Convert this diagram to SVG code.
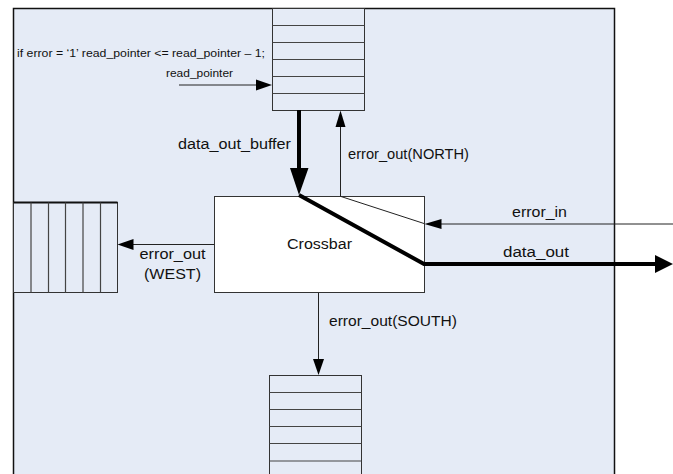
<svg xmlns="http://www.w3.org/2000/svg" width="673" height="474" viewBox="0 0 673 474">
  <style>
    .bg { fill: #e5ebf6; stroke: #111; stroke-width: 1.5; }
    .buf { fill: #e5ebf6; stroke: #333; stroke-width: 1; }
    .cell { stroke: #444; stroke-width: 1.2; fill: none; }
    .box { fill: #ffffff; stroke: #333; stroke-width: 1; }
    .thin { stroke: #222; stroke-width: 1; fill: none; }
    .thick { stroke: #000; stroke-width: 4; fill: none; stroke-linejoin: miter; }
    .head { fill: #000; stroke: none; }
    text { font-family: "Liberation Sans", Arial, sans-serif; fill: #111; }
    .lbl { font-size: 14px; }
    .small { font-size: 10px; }
  </style>

  <!-- router frame -->
  <rect class="bg" x="13.5" y="8.5" width="601" height="480"/>

  <!-- north input buffer -->
  <g id="buffer-north">
    <rect class="buf" x="272.5" y="8.5" width="92" height="102"/>
    <path class="cell" d="M272.5 25.5H364.5M272.5 42.5H364.5M272.5 59.5H364.5M272.5 76.5H364.5M272.5 93.5H364.5"/>
  </g>

  <!-- west buffer -->
  <g id="buffer-west">
    <rect class="buf" x="13.5" y="202.5" width="104" height="90"/>
    <path d="M13.5 202.5H117.5" stroke="#111" stroke-width="2"/>
    <path class="cell" d="M31 202.5V292.5M48.5 202.5V292.5M65.5 202.5V292.5M83 202.5V292.5M100.5 202.5V292.5"/>
  </g>

  <!-- south buffer -->
  <g id="buffer-south">
    <rect class="buf" x="269.5" y="375.5" width="92" height="110"/>
    <path class="cell" d="M269.5 392.5H361.5M269.5 409.5H361.5M269.5 426.5H361.5M269.5 443.5H361.5M269.5 461H361.5"/>
  </g>

  <!-- crossbar -->
  <g id="crossbar">
    <rect class="box" x="214.5" y="196.5" width="210" height="96"/>
    <text class="lbl" x="287" y="249" textLength="65" lengthAdjust="spacingAndGlyphs">Crossbar</text>
  </g>

  <!-- connectors -->
  <g id="connectors">
    <!-- read pointer into north buffer -->
    <path class="thin" d="M179 85H257"/>
    <polygon class="head" points="256,79.5 272,85 256,90.5"/>

    <!-- data_out_buffer: north buffer to crossbar -->
    <path class="thick" d="M299 110V172"/>
    <polygon class="head" points="290,168 308.5,168 299,195"/>

    <!-- error_out(NORTH): crossbar back to north buffer -->
    <path class="thin" d="M340.5 196.5V126"/>
    <polygon class="head" points="335.5,127 345.5,127 340.5,110.5"/>

    <!-- switched data path through crossbar -->
    <polyline class="thick" points="299,195 424,264 657,264"/>
    <polygon class="head" points="655,255 673,264 655,273"/>

    <!-- error_in routed through crossbar -->
    <path class="thin" d="M341 196.5L424 223.5"/>
    <path class="thin" d="M673 224H440"/>
    <polygon class="head" points="441.5,219 424.5,224 441.5,229"/>

    <!-- error_out(WEST) -->
    <path class="thin" d="M214 244.5H132"/>
    <polygon class="head" points="133.5,239 117.5,244.5 133.5,250"/>

    <!-- error_out(SOUTH) -->
    <path class="thin" d="M318.5 293V360"/>
    <polygon class="head" points="313,359 324,359 318.5,375"/>
  </g>

  <!-- labels -->
  <g id="labels">
    <text class="small" x="17" y="57" textLength="248" lengthAdjust="spacingAndGlyphs">if error = ‘1’ read_pointer &lt;= read_pointer – 1;</text>
    <text class="small" x="166" y="77" textLength="67" lengthAdjust="spacingAndGlyphs">read_pointer</text>
    <text class="lbl" x="178" y="149" textLength="113" lengthAdjust="spacingAndGlyphs">data_out_buffer</text>
    <text class="lbl" x="348" y="159" textLength="121" lengthAdjust="spacingAndGlyphs">error_out(NORTH)</text>
    <text class="lbl" x="512" y="217" textLength="55" lengthAdjust="spacingAndGlyphs">error_in</text>
    <text class="lbl" x="503" y="257" textLength="66" lengthAdjust="spacingAndGlyphs">data_out</text>
    <text class="lbl" x="139.5" y="259" textLength="66" lengthAdjust="spacingAndGlyphs">error_out</text>
    <text class="lbl" x="144" y="279" textLength="57" lengthAdjust="spacingAndGlyphs">(WEST)</text>
    <text class="lbl" x="329" y="326" textLength="128" lengthAdjust="spacingAndGlyphs">error_out(SOUTH)</text>
  </g>
</svg>
